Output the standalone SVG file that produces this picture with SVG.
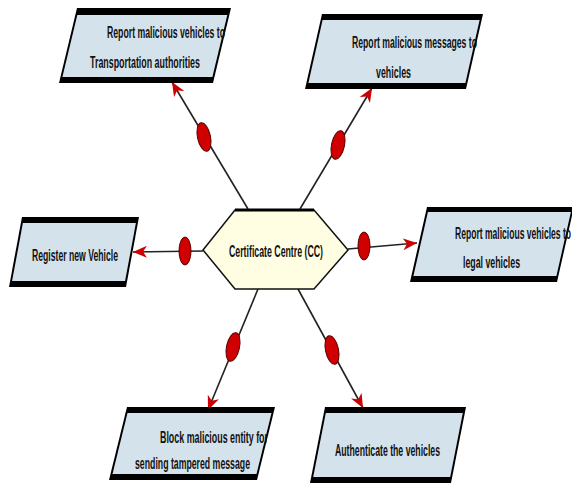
<svg xmlns="http://www.w3.org/2000/svg" width="572" height="484" viewBox="0 0 572 484">
<defs>
<style>
.outer{fill:#000}
.inner{fill:#d4e2ec}
.t{font-family:"Liberation Sans",Arial,sans-serif;font-size:16px;font-weight:bold;fill:#111}
.conn{stroke:#222;stroke-width:1.6;fill:none}
.dot{fill:#d00000;stroke:#5a0000;stroke-width:1}
</style>
<marker id="arr" markerUnits="userSpaceOnUse" markerWidth="16" markerHeight="14" refX="14" refY="6" orient="auto">
<path d="M0,0 L14,6 L0,12 L4,6 z" fill="#cc0000"/>
</marker>
</defs>
<rect width="572" height="484" fill="#fff"/>

<g id="connectors">
<line class="conn" x1="248" y1="209" x2="172" y2="82" marker-end="url(#arr)"/>
<line class="conn" x1="300" y1="209" x2="372" y2="88" marker-end="url(#arr)"/>
<line class="conn" x1="203" y1="251" x2="133" y2="252" marker-end="url(#arr)"/>
<line class="conn" x1="348" y1="249" x2="417" y2="243" marker-end="url(#arr)"/>
<line class="conn" x1="258" y1="289" x2="208" y2="410" marker-end="url(#arr)"/>
<line class="conn" x1="298" y1="289" x2="363" y2="408" marker-end="url(#arr)"/>
<ellipse class="dot" cx="204" cy="137" rx="6.5" ry="14.5" transform="rotate(-12 204 137)"/>
<ellipse class="dot" cx="338" cy="145" rx="6.5" ry="14.5" transform="rotate(12 338 145)"/>
<ellipse class="dot" cx="185" cy="251" rx="6" ry="14"/>
<ellipse class="dot" cx="364" cy="246" rx="6" ry="14"/>
<ellipse class="dot" cx="233" cy="347" rx="6.5" ry="14.5" transform="rotate(12 233 347)"/>
<ellipse class="dot" cx="332" cy="350" rx="6.5" ry="14.5" transform="rotate(-12 332 350)"/>
</g>

<g id="cc">
<polygon points="203,250 235,210 314,210 348,250 314,289 235,289" fill="#fffde2" stroke="#111" stroke-width="1.5"/>
<line x1="235" y1="210" x2="314" y2="210" stroke="#000" stroke-width="3"/>
<text class="t" x="229" y="257" textLength="94" lengthAdjust="spacingAndGlyphs">Certificate Centre (CC)</text>
</g>

<g id="box-transport">
<polygon class="outer" points="77,8 231,8 213,83 59,83"/>
<polygon class="inner" points="77.3,15 227.3,15 212.4,77 62.4,77"/>
<text class="t" x="107" y="38" textLength="118" lengthAdjust="spacingAndGlyphs">Report malicious vehicles to</text>
<text class="t" x="90" y="68" textLength="110" lengthAdjust="spacingAndGlyphs">Transportation authorities</text>
</g>

<g id="box-messages">
<polygon class="outer" points="322,14 483,14 466,89 305,89"/>
<polygon class="inner" points="322.6,20 479.6,20 465.4,83 308.4,83"/>
<text class="t" x="352" y="48" textLength="125" lengthAdjust="spacingAndGlyphs">Report malicious messages to</text>
<text class="t" x="376" y="78" textLength="35" lengthAdjust="spacingAndGlyphs">vehicles</text>
</g>

<g id="box-register">
<polygon class="outer" points="22,217 139,217 126,287 9,287"/>
<polygon class="inner" points="22.9,223 135.9,223 125.1,281 12.1,281"/>
<text class="t" x="32" y="261" textLength="86" lengthAdjust="spacingAndGlyphs">Register new Vehicle</text>
</g>

<g id="box-legal">
<polygon class="outer" points="427,207 574,207 557,282 410,282"/>
<polygon class="inner" points="427.9,212 570.9,212 556.4,276 413.4,276"/>
<text class="t" x="455" y="239" textLength="116" lengthAdjust="spacingAndGlyphs">Report malicious vehicles to</text>
<text class="t" x="463" y="268" textLength="57" lengthAdjust="spacingAndGlyphs">legal vehicles</text>
</g>

<g id="box-block">
<polygon class="outer" points="127,407 275,407 257,480 109,480"/>
<polygon class="inner" points="127.5,413 271.5,413 256.5,474 112.5,474"/>
<text class="t" x="160" y="443" textLength="108" lengthAdjust="spacingAndGlyphs">Block malicious entity for</text>
<text class="t" x="135" y="469" textLength="115" lengthAdjust="spacingAndGlyphs">sending tampered message</text>
</g>

<g id="box-authenticate">
<polygon class="outer" points="325,407 466,407 451,483 310,483"/>
<polygon class="inner" points="325.8,413 462.8,413 450.2,477 313.2,477"/>
<text class="t" x="335" y="456" textLength="105" lengthAdjust="spacingAndGlyphs">Authenticate the vehicles</text>
</g>
</svg>
